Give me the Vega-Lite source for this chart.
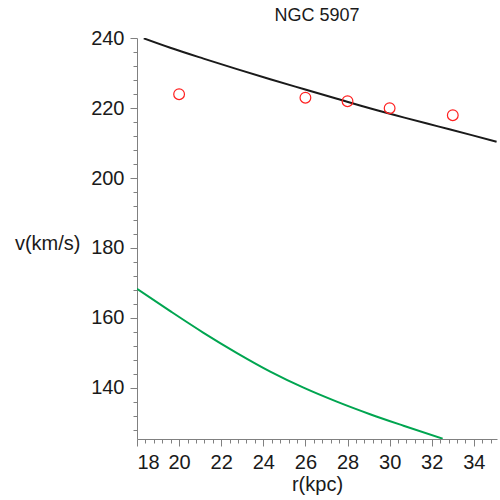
{
  "$schema": "https://vega.github.io/schema/vega-lite/v6.json",
  "autosize": "none",
  "width": 360,
  "height": 401,
  "padding": {"left": 137, "top": 38, "right": 3, "bottom": 61},
  "background": "white",
  "title": {"text": "NGC 5907", "font": "Liberation Sans", "fontSize": 18, "fontWeight": "normal", "color": "#1a1a1a", "anchor": "middle", "baseline": "alphabetic", "offset": -11},
  "datasets": {
    "curves": [
      {"r": 18.32, "v": 240.0, "series": "model"},
      {"r": 19.58, "v": 237.3, "series": "model"},
      {"r": 21.16, "v": 234.2, "series": "model"},
      {"r": 22.75, "v": 231.2, "series": "model"},
      {"r": 24.33, "v": 228.3, "series": "model"},
      {"r": 25.91, "v": 225.5, "series": "model"},
      {"r": 27.5, "v": 222.7, "series": "model"},
      {"r": 29.1, "v": 219.9, "series": "model"},
      {"r": 30.7, "v": 217.3, "series": "model"},
      {"r": 32.3, "v": 214.8, "series": "model"},
      {"r": 33.9, "v": 212.3, "series": "model"},
      {"r": 35.08, "v": 210.4, "series": "model"},
      {"r": 18.0, "v": 168.3, "series": "green"},
      {"r": 19.58, "v": 161.9, "series": "green"},
      {"r": 21.16, "v": 155.7, "series": "green"},
      {"r": 22.75, "v": 149.9, "series": "green"},
      {"r": 24.33, "v": 144.6, "series": "green"},
      {"r": 25.91, "v": 140.0, "series": "green"},
      {"r": 27.49, "v": 136.0, "series": "green"},
      {"r": 29.07, "v": 132.4, "series": "green"},
      {"r": 30.66, "v": 129.1, "series": "green"},
      {"r": 32.52, "v": 125.4, "series": "green"}
    ],
    "obs": [
      {"r": 20, "v": 224},
      {"r": 26, "v": 223},
      {"r": 28, "v": 222},
      {"r": 30, "v": 220},
      {"r": 33, "v": 218}
    ]
  },
  "config": {
    "view": {"stroke": null},
    "axis": {"grid": false, "domainColor": "#808080", "tickColor": "#808080", "labelFont": "Liberation Sans", "labelFontSize": 20, "labelColor": "#1a1a1a", "titleFont": "Liberation Sans", "titleFontSize": 20, "titleFontWeight": "normal", "titleColor": "#1a1a1a", "labelOverlap": false}
  },
  "encoding": {
    "x": {
      "field": "r", "type": "quantitative",
      "scale": {"domain": [18, 35.1], "nice": false, "zero": false},
      "axis": {
        "title": "r(kpc)",
        "values": [18,18.4,18.8,19.2,19.6,20,20.4,20.8,21.2,21.6,22,22.4,22.8,23.2,23.6,24,24.4,24.8,25.2,25.6,26,26.4,26.8,27.2,27.6,28,28.4,28.8,29.2,29.6,30,30.4,30.8,31.2,31.6,32,32.4,32.8,33.2,33.6,34,34.4,34.8],
        "labelExpr": "datum.value % 2 === 0 ? format(datum.value, 'd') : ''",
        "labelOverlap": false,
        "tickSize": {"condition": {"test": "datum.value % 2 === 0", "value": 7}, "value": 4},
        "labelPadding": 6,
        "labelFlush": true,
        "titleY": 51,
        "titleBaseline": "alphabetic"
      }
    },
    "y": {
      "field": "v", "type": "quantitative",
      "scale": {"domain": [125.3, 240.1], "nice": false, "zero": false},
      "axis": {
        "title": "v(km/s)",
        "values": [128,132,136,140,144,148,152,156,160,164,168,172,176,180,184,188,192,196,200,204,208,212,216,220,224,228,232,236,240],
        "labelExpr": "datum.value % 20 === 0 ? format(datum.value, 'd') : ''",
        "labelOverlap": false,
        "tickSize": {"condition": {"test": "datum.value % 20 === 0", "value": 7}, "value": 4},
        "labelPadding": 6,
        "labelFlush": false,
        "titleAngle": 0,
        "titleAlign": "right",
        "titleBaseline": "middle",
        "titleX": -57,
        "titleY": 205
      }
    }
  },
  "layer": [
    {
      "data": {"name": "curves"},
      "mark": {"type": "line", "strokeWidth": 2, "clip": true, "interpolate": "monotone"},
      "encoding": {
        "color": {"field": "series", "type": "nominal", "scale": {"domain": ["model", "green"], "range": ["#1a1a1a", "#00a550"]}, "legend": null}
      }
    },
    {
      "data": {"name": "obs"},
      "mark": {"type": "point", "shape": "circle", "filled": false, "size": 115, "stroke": "#ff2020", "strokeWidth": 1.2, "opacity": 1}
    }
  ]
}
